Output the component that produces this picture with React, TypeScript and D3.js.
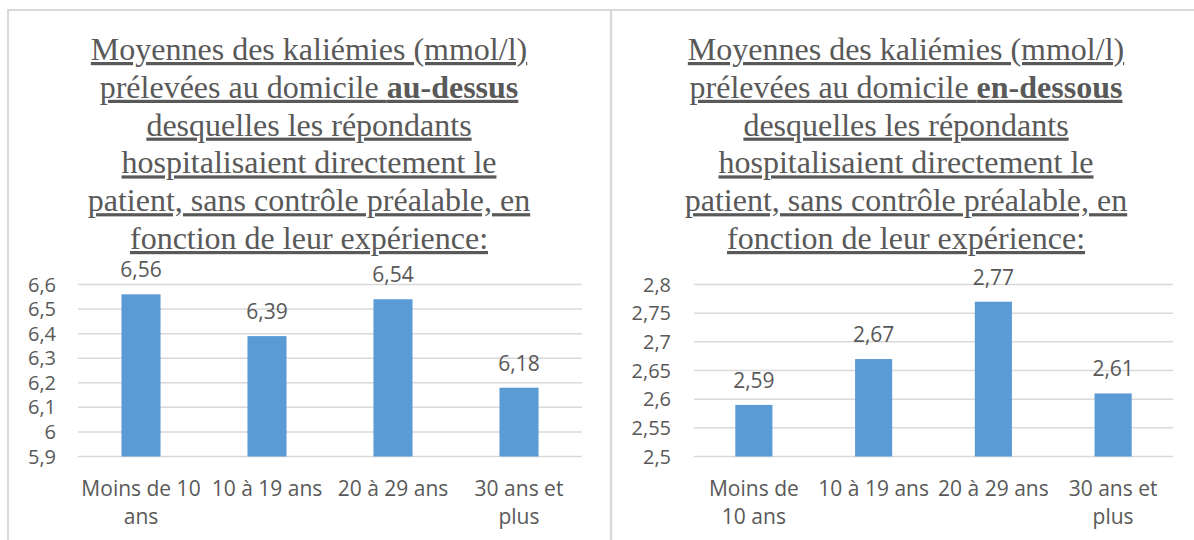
import React from "react";
import * as d3 from "d3";

const categoriesLeft: string[][] = [["Moins de 10", "ans"], ["10 à 19 ans"], ["20 à 29 ans"], ["30 ans et", "plus"]];
const categoriesRight: string[][] = [["Moins de", "10 ans"], ["10 à 19 ans"], ["20 à 29 ans"], ["30 ans et", "plus"]];
const valuesLeft: number[] = [6.56, 6.39, 6.54, 6.18];
const valuesRight: number[] = [2.59, 2.67, 2.77, 2.61];
const domainLeft: [number, number] = [5.9, 6.6];
const domainRight: [number, number] = [2.5, 2.8];
const titleLeft: string[] = [
  "Moyennes des kaliémies (mmol/l)",
  "prélevées au domicile |au-dessus",
  "desquelles les répondants",
  "hospitalisaient directement le",
  "patient, sans contrôle préalable, en",
  "fonction de leur expérience:",
];
const titleRight: string[] = [
  "Moyennes des kaliémies (mmol/l)",
  "prélevées au domicile |en-dessous",
  "desquelles les répondants",
  "hospitalisaient directement le",
  "patient, sans contrôle préalable, en",
  "fonction de leur expérience:",
];

const TEXT = "#595959";
const GRID = "#d9d9d9";
const BAR = "#5b9bd5";
const SANS = "'Open Sans', 'Noto Sans', sans-serif";
const SERIF = "'Liberation Serif', 'Times New Roman', serif";

const fmt = (v: number) => String(+v.toFixed(2)).replace(".", ",");

type PanelProps = {
  cx: number;
  title: string[];
  cats: string[][];
  values: number[];
  domain: [number, number];
  nTicks: number;
  x0: number;
  x1: number;
  labelRight: number;
};

function Panel({ cx, title, cats, values, domain, nTicks, x0, x1, labelRight }: PanelProps) {
  const yTop = 284.5;
  const yBot = 456.5;
  const y = d3.scaleLinear().domain(domain).range([yBot, yTop]);
  const pad = 0.69;
  const x = d3
    .scaleBand<number>()
    .domain(d3.range(values.length))
    .range([x0, x1])
    .paddingInner(pad)
    .paddingOuter(pad / 2);
  const ticks = y.ticks(nTicks);
  const step = x.step();
  return (
    <g>
      <text fontFamily={SERIF} fontSize={32} fill={TEXT} textAnchor="middle">
        {title.map((line, i) => {
          const [a, b] = line.split("|");
          return (
            <tspan key={i} x={cx} y={60 + i * 37.8} style={{ textDecoration: "underline" }}>
              {a}
              {b !== undefined && <tspan fontWeight="bold">{b}</tspan>}
            </tspan>
          );
        })}
      </text>
      {ticks.map((t) => (
        <g key={t}>
          <line x1={x0} x2={x1} y1={y(t)} y2={y(t)} stroke={GRID} strokeWidth={1.5} />
          <text x={labelRight} y={y(t)} dy="0.35em" textAnchor="end" fontFamily={SANS} fontSize={20} fill={TEXT}>
            {fmt(t)}
          </text>
        </g>
      ))}
      {values.map((v, i) => (
        <g key={i}>
          <rect x={x(i)} y={y(v)} width={x.bandwidth()} height={yBot - y(v)} fill={BAR} />
          <text
            x={(x(i) as number) + x.bandwidth() / 2}
            y={y(v) - 17}
            textAnchor="middle"
            fontFamily={SANS}
            fontSize={21}
            fill={TEXT}
          >
            {fmt(v)}
          </text>
          <text textAnchor="middle" fontFamily={SANS} fontSize={21} fill={TEXT}>
            {cats[i].map((l, j) => (
              <tspan key={j} x={x0 + step * (i + 0.5)} y={496 + j * 28}>
                {l}
              </tspan>
            ))}
          </text>
        </g>
      ))}
    </g>
  );
}

export default function App() {
  return (
    <svg
      width={1194}
      height={540}
      style={{ position: "absolute", left: 0, top: 0, background: "#fff" }}
    >
      <rect x={0} y={0} width={1194} height={540} fill="#fff" />
      <line x1={7} x2={1194} y1={10} y2={10} stroke={GRID} strokeWidth={2} />
      <line x1={8} x2={8} y1={9} y2={540} stroke={GRID} strokeWidth={2} />
      <line x1={611} x2={611} y1={9} y2={540} stroke={GRID} strokeWidth={2.5} />
      <Panel
        cx={309}
        title={titleLeft}
        cats={categoriesLeft}
        values={valuesLeft}
        domain={domainLeft}
        nTicks={7}
        x0={78}
        x1={582}
        labelRight={56}
      />
      <Panel
        cx={906}
        title={titleRight}
        cats={categoriesRight}
        values={valuesRight}
        domain={domainRight}
        nTicks={6}
        x0={694}
        x1={1173}
        labelRight={671}
      />
    </svg>
  );
}
